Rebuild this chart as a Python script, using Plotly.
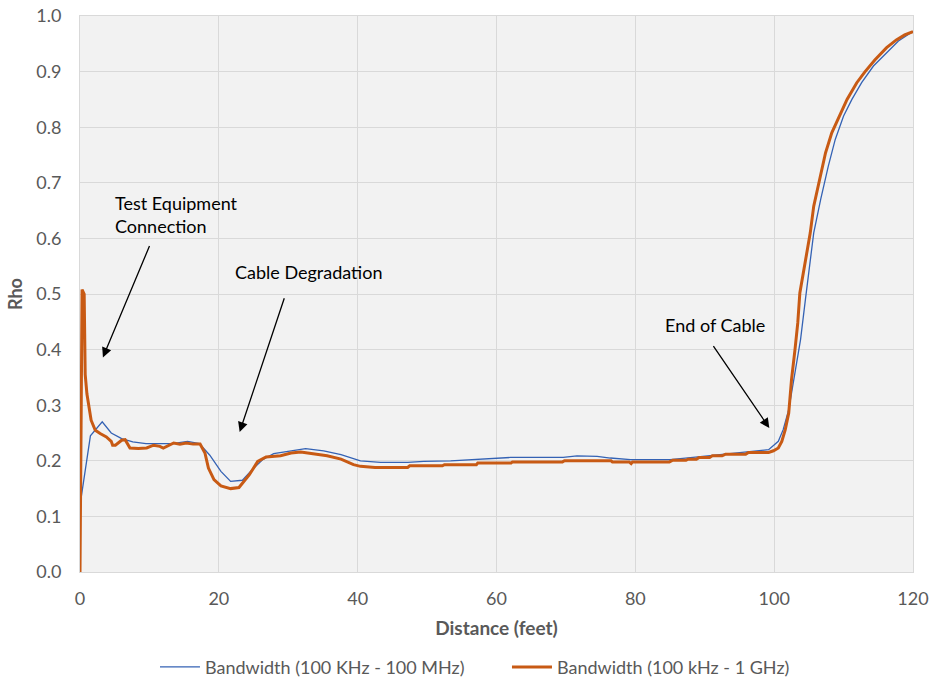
import plotly.graph_objects as go

# Blue series: Bandwidth (100 KHz - 100 MHz)
blue_x = [0, 1.5, 3.2, 4.5, 6.0, 7.6, 9.5, 13.3, 15.5, 17.2, 18.7, 20.3, 21.7, 23.4, 24.8,
          26.3, 27.9, 30.4, 32.5, 35.1, 37.6, 40.4, 43.3, 47.2, 49.5, 53.4, 57.7, 62.0,
          69.6, 71.6, 74.5, 76.4, 79.3, 85.0, 88.3, 92.7, 96.1, 99.2, 100.6, 101.3, 102.1,
          102.8, 103.8, 104.5, 105.2, 105.7, 106.7, 107.8, 108.8, 110.0, 111.2, 112.6,
          114.3, 116.2, 117.9, 119.6, 120]
blue_y = [0.12, 0.245, 0.27, 0.25, 0.24, 0.234, 0.231, 0.231, 0.235, 0.231, 0.21, 0.181,
          0.163, 0.165, 0.184, 0.202, 0.213, 0.218, 0.222, 0.218, 0.211, 0.2, 0.197, 0.197,
          0.199, 0.2, 0.203, 0.206, 0.206, 0.209, 0.208, 0.205, 0.202, 0.202, 0.206, 0.212,
          0.216, 0.22, 0.235, 0.256, 0.292, 0.346, 0.418, 0.49, 0.562, 0.61, 0.67, 0.73,
          0.778, 0.82, 0.85, 0.88, 0.91, 0.934, 0.955, 0.969, 0.972]

# Orange series: Bandwidth (100 kHz - 1 GHz)
orange_x = [0, 0.15, 0.3, 0.6, 0.75, 1.0, 1.6, 2.2, 2.9, 3.8,
            4.5, 4.7, 5.1, 6.0, 6.5, 7.2, 8.4, 9.6, 10.6, 11.5,
            12.0, 13.5, 14.4, 15.3, 16.3, 17.3, 18.0, 18.5, 19.3, 20.3,
            21.7, 22.9, 24.4, 25.6, 26.8, 28.9, 30.4, 31.8, 33.2, 35.6,
            37.6, 39.4, 40.4, 42.5, 47.2, 47.5, 52.2, 52.5, 57.1, 57.3,
            62.1, 62.3, 69.5, 69.8, 76.5, 76.7, 79.1, 79.4, 79.6, 84.9,
            85.4, 87.3, 87.6, 88.8, 89.2, 90.7, 91.1, 92.5, 93.0, 95.9,
            96.3, 99.2, 99.9, 100.6, 101.1, 101.6, 102.1, 102.3, 102.5, 103.0,
            103.4, 103.7, 104.5, 105.2, 105.7, 106.4, 107.4, 108.3, 109.4, 110.5,
            111.9, 113.1, 114.5, 116.2, 117.6, 118.8, 120]
orange_y = [0.0, 0.30, 0.508, 0.50, 0.355, 0.32, 0.273, 0.255, 0.249, 0.243,
            0.235, 0.228, 0.228, 0.237, 0.238, 0.223, 0.222, 0.223, 0.228, 0.226,
            0.223, 0.232, 0.230, 0.232, 0.230, 0.230, 0.214, 0.187, 0.166, 0.155,
            0.150, 0.152, 0.175, 0.199, 0.207, 0.209, 0.214, 0.216, 0.213, 0.209,
            0.203, 0.193, 0.190, 0.188, 0.188, 0.191, 0.191, 0.193, 0.193, 0.196,
            0.196, 0.198, 0.198, 0.200, 0.200, 0.198, 0.198, 0.195, 0.198, 0.198,
            0.201, 0.201, 0.203, 0.203, 0.206, 0.206, 0.209, 0.209, 0.212, 0.212,
            0.215, 0.215, 0.218, 0.223, 0.235, 0.256, 0.286, 0.316, 0.346, 0.40,
            0.448, 0.502, 0.562, 0.61, 0.658, 0.70, 0.754, 0.79, 0.82, 0.85,
            0.88, 0.90, 0.921, 0.943, 0.957, 0.966, 0.972]

series_names = ["Bandwidth (100 KHz - 100 MHz)", "Bandwidth (100 kHz - 1 GHz)"]
x_ticks = [0, 20, 40, 60, 80, 100, 120]
y_ticks = [0.0, 0.1, 0.2, 0.3, 0.4, 0.5, 0.6, 0.7, 0.8, 0.9, 1.0]

# annotations: (text, text_x, text_y, arrow_tail_x, arrow_tail_y, arrow_tip_x, arrow_tip_y)
notes = [
    ("Test Equipment<br>Connection", 4.75, 0.643, 10.1, 0.589, 3.3, 0.386),
    ("Cable Degradation", 22.0, 0.54, 29.5, 0.495, 23.0, 0.252),
    ("End of Cable", 84.0, 0.444, 91.1, 0.409, 99.3, 0.259),
]

FONT = "Lato, 'Open Sans', sans-serif"

fig = go.Figure()
fig.add_trace(go.Scatter(x=blue_x, y=blue_y, mode="lines", name=series_names[0],
                         line=dict(color="#3462B4", width=1.3)))
fig.add_trace(go.Scatter(x=orange_x, y=orange_y, mode="lines", name=series_names[1],
                         line=dict(color="#C85A14", width=3)))

for text, tx, ty, ax0, ay0, ax1, ay1 in notes:
    fig.add_annotation(x=tx, y=ty, text=text, showarrow=False, xanchor="left",
                       align="left", font=dict(family=FONT, size=18, color="#000000"))
    fig.add_annotation(x=ax1, y=ay1, ax=ax0, ay=ay0, axref="x", ayref="y", text="",
                       showarrow=True, arrowhead=2, arrowsize=1.5, arrowwidth=1.3,
                       arrowcolor="#000000")

fig.update_layout(
    width=930, height=680,
    margin=dict(l=80, r=17, t=16, b=108, autoexpand=False),
    paper_bgcolor="#FFFFFF",
    plot_bgcolor="#F2F2F2",
    font=dict(family=FONT, size=18, color="#595959"),
    showlegend=True,
    legend=dict(orientation="h", x=0.09, xanchor="left", y=-0.138, yanchor="top",
                font=dict(family=FONT, size=18, color="#595959"), itemwidth=40,
                entrywidth=297, entrywidthmode="pixels", tracegroupgap=0),
    xaxis=dict(range=[0, 120], tickvals=x_ticks, ticktext=[str(v) for v in x_ticks],
               showgrid=True, gridcolor="#D9D9D9", gridwidth=1, automargin=False,
               showline=True, linecolor="#D9D9D9", mirror=True, zeroline=False,
               ticks="", ticklabelstandoff=10, tickfont=dict(size=18, color="#595959"),
               title=dict(text="<b>Distance (feet)</b>", standoff=14,
                          font=dict(size=19, color="#595959"))),
    yaxis=dict(range=[0, 1.0], tickvals=y_ticks, ticktext=[f"{v:.1f}" for v in y_ticks],
               showgrid=True, gridcolor="#D9D9D9", gridwidth=1, automargin=False,
               showline=True, linecolor="#D9D9D9", mirror=True, zeroline=False,
               ticks="", ticklabelstandoff=14, tickfont=dict(size=18, color="#595959"),
               title=dict(text="<b>Rho</b>", standoff=8,
                          font=dict(size=18, color="#595959"))),
)

fig.write_html("out.html")
